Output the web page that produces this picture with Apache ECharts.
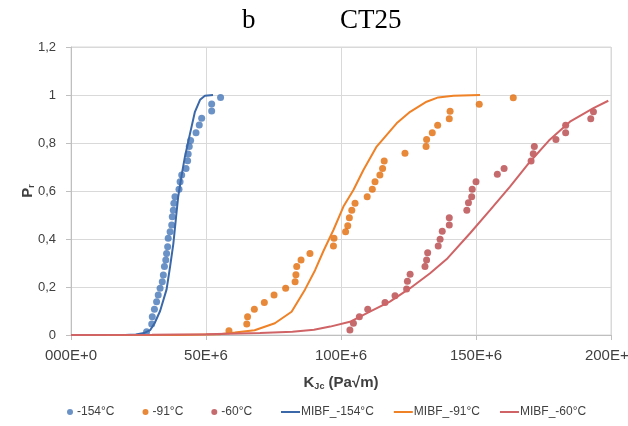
<!DOCTYPE html>
<html>
<head>
<meta charset="utf-8">
<script src="https://cdn.jsdelivr.net/npm/echarts@6/dist/echarts.min.js"></script>
<style>
  html, body { margin: 0; padding: 0; background: #fff; }
  #chart { width: 628px; height: 426px; }
</style>
</head>
<body>
<div id="chart"></div>
<script>
// K_Jc values in units of 1E+6 Pa√m, cumulative failure probability P_r
const xTickLabels = ['000E+0', '50E+6', '100E+6', '150E+6', '200E+6'];
const yTickLabels = ['0', '0,2', '0,4', '0,6', '0,8', '1', '1,2'];

const seriesNames = ['-154°C', '-91°C', '-60°C', 'MIBF_-154°C', 'MIBF_-91°C', 'MIBF_-60°C'];

const test154 = [
  [28.0, 0.014], [29.9, 0.046], [30.1, 0.076], [30.9, 0.107], [31.7, 0.139], [32.3, 0.167],
  [33.0, 0.195], [33.8, 0.222], [34.2, 0.25], [34.6, 0.285], [35.1, 0.313], [35.4, 0.34],
  [35.8, 0.368], [36.0, 0.403], [36.7, 0.43], [37.3, 0.458], [37.5, 0.493], [37.9, 0.52],
  [38.1, 0.549], [38.5, 0.576], [40.0, 0.607], [40.4, 0.639], [41.0, 0.667], [42.6, 0.694],
  [43.2, 0.726], [43.4, 0.754], [43.8, 0.785], [44.3, 0.81], [46.3, 0.843], [47.5, 0.875],
  [48.4, 0.903], [52.1, 0.933], [52.1, 0.962], [55.4, 0.99]
];
const test91 = [
  [58.5, 0.018], [65.1, 0.046], [65.4, 0.076], [67.9, 0.107], [71.6, 0.135], [75.2, 0.167],
  [79.5, 0.195], [83.0, 0.222], [83.3, 0.251], [83.6, 0.285], [85.2, 0.313], [88.5, 0.34],
  [97.2, 0.371], [97.4, 0.403], [101.7, 0.43], [102.5, 0.455], [103.1, 0.489], [104.0, 0.52],
  [105.2, 0.549], [109.7, 0.576], [111.6, 0.607], [112.6, 0.639], [114.4, 0.667], [115.4, 0.694],
  [116.0, 0.725], [123.7, 0.757], [131.5, 0.785], [131.7, 0.815], [133.8, 0.843], [135.8, 0.874],
  [140.1, 0.901], [140.4, 0.932], [151.2, 0.961], [163.8, 0.989]
];
const test60 = [
  [103.3, 0.021], [104.6, 0.049], [106.8, 0.076], [109.9, 0.107], [116.3, 0.135], [120.0, 0.164],
  [124.3, 0.192], [124.6, 0.224], [125.6, 0.253], [131.1, 0.285], [131.7, 0.313], [132.1, 0.343],
  [136.0, 0.371], [136.7, 0.399], [137.5, 0.432], [140.1, 0.458], [140.1, 0.489], [146.6, 0.52],
  [147.2, 0.551], [148.4, 0.576], [148.6, 0.607], [150.0, 0.639], [157.9, 0.67], [160.4, 0.694],
  [170.4, 0.725], [171.2, 0.755], [171.6, 0.785], [179.6, 0.815], [183.2, 0.843], [183.2, 0.874],
  [192.5, 0.901], [193.5, 0.93]
];

const mibf154 = [
  [0, 0], [20, 0], [24, 0.002], [27, 0.008], [29.3, 0.02], [31, 0.05], [33, 0.1], [35.4, 0.19],
  [36.7, 0.285], [37.9, 0.38], [38.9, 0.49], [39.7, 0.576], [41.0, 0.667], [42.2, 0.743],
  [44.1, 0.84], [45.9, 0.93], [47.8, 0.98], [49.6, 0.997], [52.6, 1.0]
];
const mibf91 = [
  [0, 0], [40, 0], [55, 0.003], [60.7, 0.01], [68, 0.02], [75.5, 0.049], [81.7, 0.097],
  [86.7, 0.19], [90.4, 0.27], [93.5, 0.35], [97.2, 0.4375], [100.9, 0.535], [104.6, 0.604],
  [108.3, 0.6875], [113.2, 0.785], [120.6, 0.882], [125.6, 0.93], [131.7, 0.972], [136, 0.99],
  [141.6, 0.997], [151.5, 1.0]
];
const mibf60 = [
  [0, 0], [30, 0.001], [50, 0.003], [70, 0.008], [82, 0.014], [90, 0.022], [96, 0.035],
  [103.3, 0.055], [110.7, 0.097], [118.1, 0.139], [125.6, 0.195], [133, 0.257], [139.5, 0.32],
  [147.8, 0.424], [155.2, 0.52], [162.6, 0.618], [170, 0.722], [177, 0.81], [184.8, 0.889],
  [193.5, 0.945], [199, 0.976]
];

const pointColors = ['#4677B8', '#E26A08', '#B7464A'];
const lineColors = ['#3B68A8', '#EF8126', '#CF6365'];

const chart = echarts.init(document.getElementById('chart'));

function scatter(name, data, color) {
  return {
    name, type: 'scatter', data, symbol: 'circle', symbolSize: 7,
    itemStyle: { color }, z: 3
  };
}
function curve(name, data, color) {
  return {
    name, type: 'line', data, showSymbol: false, symbol: 'none',
    lineStyle: { color, width: 2 }, itemStyle: { color }, z: 4
  };
}

const nameRich = {
  k: { fontFamily: 'Liberation Sans', fontSize: 15, fontWeight: 'bold', color: '#404040' },
  s: { fontFamily: 'Liberation Sans', fontSize: 9, fontWeight: 'bold', color: '#404040', padding: [8, 0, 0, 0] }
};

chart.setOption({
  animation: false,
  backgroundColor: '#fff',
  graphic: [
    { type: 'text', left: 242, top: 7, style: { text: 'b', font: '27px "Liberation Serif"', fill: '#000' } },
    { type: 'text', left: 340, top: 7, style: { text: 'CT25', font: '27px "Liberation Serif"', fill: '#000' } }
  ],
  grid: {
    left: 71, right: 17, top: 47, bottom: 91,
    outerBoundsMode: 'none', containLabel: false,
    show: true, borderColor: '#d9d9d9', borderWidth: 1
  },
  legend: [
    {
      data: seriesNames.slice(0, 3).map(n => ({ name: n, icon: 'circle' })),
      left: 62, top: 401, itemWidth: 6, itemHeight: 6, itemGap: 28,
      textStyle: { fontFamily: 'Liberation Sans', fontSize: 12, color: '#404040', padding: [0, 0, 0, -1] }
    },
    {
      data: seriesNames.slice(3).map(n => ({ name: n, icon: 'rect' })),
      left: 276, top: 401, itemWidth: 19, itemHeight: 2, itemGap: 20,
      textStyle: { fontFamily: 'Liberation Sans', fontSize: 12, color: '#404040', padding: [0, 0, 0, -4] }
    }
  ],
  xAxis: {
    type: 'value', min: 0, max: 200, interval: 50,
    name: '{k|K}{s|Jc}{k| (Pa√m)}', nameLocation: 'middle', nameGap: 39,
    nameMoveOverlap: false,
    nameTextStyle: { rich: nameRich },
    axisLine: { show: true, lineStyle: { color: '#bfbfbf' } },
    axisTick: { show: true, length: 5, lineStyle: { color: '#bfbfbf' } },
    splitLine: { show: true, lineStyle: { color: '#d9d9d9' } },
    axisLabel: {
      margin: 13, fontFamily: 'Liberation Sans', fontSize: 15, color: '#404040',
      formatter: v => xTickLabels[Math.round(v / 50)]
    }
  },
  yAxis: {
    type: 'value', min: 0, max: 1.2, interval: 0.2,
    name: '{k|P}{s|r}', nameLocation: 'middle', nameGap: 35, nameRotate: 90,
    nameMoveOverlap: false,
    nameTextStyle: { rich: nameRich },
    axisLine: { show: true, lineStyle: { color: '#bfbfbf' } },
    axisTick: { show: true, length: 5, lineStyle: { color: '#bfbfbf' } },
    splitLine: { show: true, lineStyle: { color: '#d9d9d9' } },
    axisLabel: {
      margin: 15, fontFamily: 'Liberation Sans', fontSize: 13, color: '#404040',
      formatter: v => yTickLabels[Math.round(v / 0.2)]
    }
  },
  series: [
    scatter(seriesNames[0], test154, pointColors[0]),
    scatter(seriesNames[1], test91, pointColors[1]),
    scatter(seriesNames[2], test60, pointColors[2]),
    curve(seriesNames[3], mibf154, lineColors[0]),
    curve(seriesNames[4], mibf91, lineColors[1]),
    curve(seriesNames[5], mibf60, lineColors[2])
  ]
});
</script>
</body>
</html>
